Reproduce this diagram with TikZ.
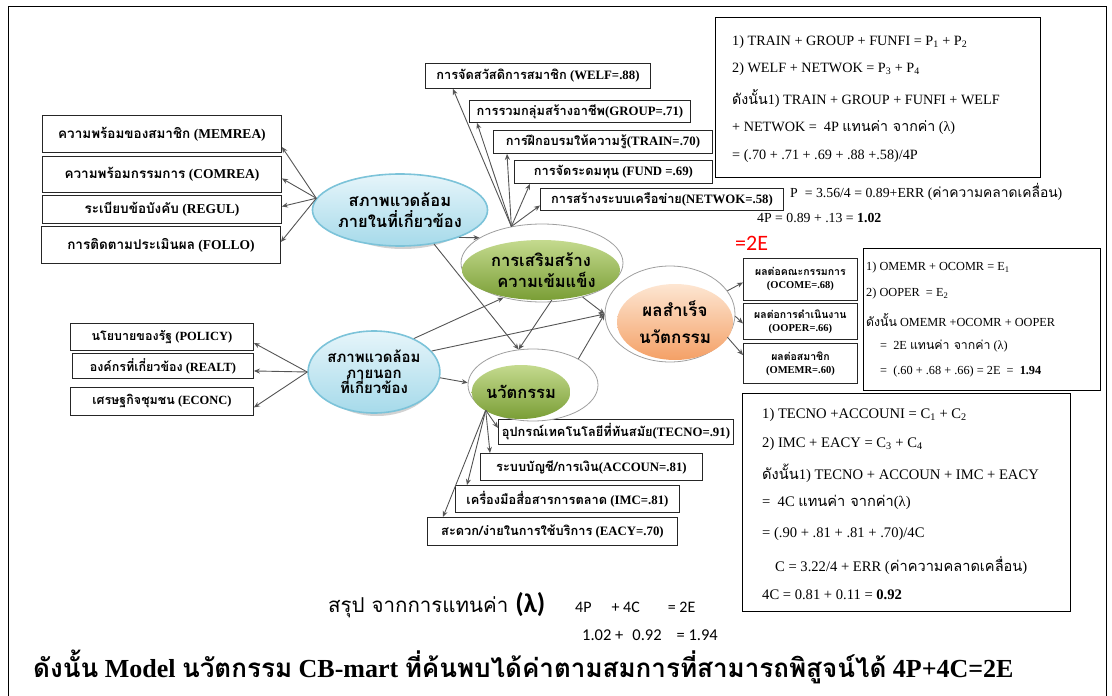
\documentclass[tikz,border=0pt]{standalone}
\usepackage{fontspec}
\setmainfont{Liberation Serif}
\newfontfamily\thaifont[Script=Thai]{Loma}
\newfontfamily\calfont{Carlito}
\newcommand{\thx}[1]{{\thaifont #1}}
\usetikzlibrary{shapes.geometric,arrows.meta,calc}
\definecolor{envA}{HTML}{E6F5FA}
\definecolor{envB}{HTML}{A6DAEA}
\definecolor{envEdge}{HTML}{7CC3D9}
\definecolor{grnA}{HTML}{C4DA8E}
\definecolor{grnB}{HTML}{7A9E36}
\definecolor{orA}{HTML}{FDE6D2}
\definecolor{orB}{HTML}{F4A066}
\definecolor{lineGray}{HTML}{555555}
\tikzset{
  lbox/.style={draw=black!85, line width=0.9pt, fill=white, anchor=north west, inner sep=2pt, font=\bfseries\fontsize{13.5}{15}\selectfont},
  mbox/.style={draw=black!85, line width=0.9pt, fill=white, anchor=north west, inner sep=2pt, font=\bfseries\fontsize{12.8}{14}\selectfont},
  rbox/.style={draw=black!85, line width=0.9pt, fill=white, anchor=north west, inner sep=1pt, minimum width=114, align=center, font=\bfseries\fontsize{10.5}{13}\selectfont},
  eqbox/.style={draw=black, line width=0.9pt, fill=white, anchor=north west},
  eqA/.style={anchor=west, inner sep=0pt, font=\fontsize{14.2}{16}\selectfont},
  eqB/.style={anchor=west, inner sep=0pt, font=\fontsize{12.3}{14}\selectfont},
  eqC/.style={anchor=west, inner sep=0pt, font=\fontsize{14.6}{16}\selectfont},
  ring/.style={ellipse, draw=gray!75, line width=0.8pt, fill=white, inner sep=0pt},
  latent/.style={ellipse, inner sep=0pt, align=center, font=\thaifont\bfseries\fontsize{16.5}{21}\selectfont},
  arr/.style={draw=lineGray, line width=0.9pt, -{Stealth[length=6pt,width=5pt]}},
}
\begin{document}
\begin{tikzpicture}[x=1pt,y=-1pt]
\useasboundingbox (0,0) rectangle (1112,696);
\draw[black, line width=0.8pt] (8,696) -- (8,6) -- (1106,6) -- (1106,696);

% ---- left upper boxes
\node[lbox, minimum width=239, minimum height=37] (memrea) at (42,115) {\thx{ความพร้อมของสมาชิก} (MEMREA)};
\node[lbox, minimum width=239, minimum height=36] (comrea) at (42,156) {\thx{ความพร้อมกรรมการ} (COMREA)};
\node[lbox, minimum width=239, minimum height=28] (regul) at (42,195) {\thx{ระเบียบข้อบังคับ} (REGUL)};
\node[lbox, minimum width=239, minimum height=37] (follo) at (41,226) {\thx{การติดตามประเมินผล} (FOLLO)};

% ---- left lower boxes
\node[lbox, minimum width=183, minimum height=27, font=\bfseries\fontsize{12.5}{14}\selectfont] (policy) at (70,323) {\thx{นโยบายของรัฐ} (POLICY)};
\node[lbox, minimum width=181, minimum height=25, font=\bfseries\fontsize{12.5}{14}\selectfont] (realt) at (72,353) {\thx{องค์กรที่เกี่ยวข้อง} (REALT)};
\node[lbox, minimum width=183, minimum height=28, font=\bfseries\fontsize{12.5}{14}\selectfont] (econc) at (70,387) {\thx{เศรษฐกิจชุมชน} (ECONC)};

% ---- top middle boxes
\node[mbox, minimum width=225, minimum height=25] (welf) at (425,63) {\thx{การจัดสวัสดิการสมาชิก} (WELF=.88)};
\node[mbox, minimum width=221, minimum height=22] (group) at (469,100) {\thx{การรวมกลุ่มสร้างอาชีพ}(GROUP=.71)};
\node[mbox, minimum width=219, minimum height=23] (train) at (493,130) {\thx{การฝึกอบรมให้ความรู้}(TRAIN=.70)};
\node[mbox, minimum width=198, minimum height=23] (fund) at (514,160) {\thx{การจัดระดมทุน} (FUND =.69)};
\node[mbox, minimum width=243, minimum height=22] (netwok) at (540,188) {\thx{การสร้างระบบเครือข่าย}(NETWOK=.58)};

% ---- bottom middle boxes
\node[mbox, minimum width=235, minimum height=25] (tecno) at (498,419) {\thx{อุปกรณ์เทคโนโลยีที่ทันสมัย}(TECNO=.91)};
\node[mbox, minimum width=222, minimum height=27] (accoun) at (480,453) {\thx{ระบบบัญชี/การเงิน}(ACCOUN=.81)};
\node[mbox, minimum width=224, minimum height=27] (imc) at (455,485) {\thx{เครื่องมือสื่อสารการตลาด} (IMC=.81)};
\node[mbox, minimum width=250, minimum height=28] (eacy) at (427,517) {\thx{สะดวก/ง่ายในการใช้บริการ} (EACY=.70)};

% ---- right small boxes
\node[rbox, minimum height=42] (ocome) at (743,258) {\thx{ผลต่อคณะกรรมการ}\\(OCOME=.68)};
\node[rbox, minimum height=36] (ooper) at (743,303) {\thx{ผลต่อการดำเนินงาน}\\(OOPER=.66)};
\node[rbox, minimum height=40] (omemr) at (743,343) {\thx{ผลต่อสมาชิก}\\(OMEMR=.60)};

% ---- equation box 1
\node[eqbox, minimum width=325, minimum height=160] (boxA) at (715,17) {};
\node[eqA] (a1) at (732,42) {1) TRAIN + GROUP + FUNFI = P\textsubscript{1} + P\textsubscript{2}};
\node[eqA] (a2) at (732,69) {2) WELF + NETWOK = P\textsubscript{3} + P\textsubscript{4}};
\node[eqA] (a3) at (732,98) {\thx{ดังนั้น}1) TRAIN + GROUP + FUNFI + WELF};
\node[eqA] (a4) at (732,128) {+ NETWOK =~ 4P \thx{แทนค่า จากค่า} (λ)};
\node[eqA] (a5) at (732,156) {= (.70 + .71 + .69 + .88 +.58)/4P};
\node[eqA, font=\fontsize{13.8}{15}\selectfont] (a6) at (790,192) {P~ = 3.56/4 = 0.89+ERR (\thx{ค่าความคลาดเคลื่อน})};
\node[eqA, font=\fontsize{13.8}{15}\selectfont] (a7) at (757,218) {4P = 0.89 + .13 = \textbf{1.02}};
\node[anchor=west, inner sep=0pt, text=red, font=\calfont\fontsize{22}{22}\selectfont] (twoE) at (735,243) {=2E};

% ---- equation box 2
\node[eqbox, minimum width=237, minimum height=142] (boxB) at (863,248) {};
\node[eqB] (b1) at (866,268) {1) OMEMR + OCOMR = E\textsubscript{1}};
\node[eqB] (b2) at (866,294) {2) OOPER~ = E\textsubscript{2}};
\node[eqB] (b3) at (866,320) {\thx{ดังนั้น} OMEMR +OCOMR + OOPER};
\node[eqB] (b4) at (880,346) {=~ 2E \thx{แทนค่า จากค่า} (λ)};
\node[eqB] (b5) at (880,372) {=~ (.60 + .68 + .66) = 2E ~=~ \textbf{1.94}};

% ---- equation box 3
\node[eqbox, minimum width=328, minimum height=218] (boxC) at (742,393) {};
\node[eqC] (c1) at (762,415) {1) TECNO +ACCOUNI = C\textsubscript{1} + C\textsubscript{2}};
\node[eqC] (c2) at (762,444) {2) IMC + EACY = C\textsubscript{3} + C\textsubscript{4}};
\node[eqC] (c3) at (762,473) {\thx{ดังนั้น}1) TECNO + ACCOUN + IMC + EACY};
\node[eqC] (c4) at (762,502) {=~ 4C \thx{แทนค่า จากค่า}(λ)};
\node[eqC] (c5) at (762,534) {= (.90 + .81 + .81 + .70)/4C};
\node[eqC] (c6) at (775,566) {C = 3.22/4 + ERR (\thx{ค่าความคลาดเคลื่อน})};
\node[eqC] (c7) at (762,595) {4C = 0.81 + 0.11 = \textbf{0.92}};

% ---- latent variables
\node[ellipse, fill=gray!35, minimum width=142, minimum height=72] (inenvS) at (403,213) {};
\node[latent, draw=envEdge, line width=1.6pt, top color=envA, bottom color=envB, minimum width=142, minimum height=72] (inenv) at (400,210) {สภาพแวดล้อม\\ภายในที่เกี่ยวข้อง};
\node[ellipse, fill=gray!35, minimum width=118, minimum height=82] (outenvS) at (377,375) {};
\node[latent, draw=envEdge, line width=1.6pt, top color=envA, bottom color=envB, minimum width=118, minimum height=82, font=\thaifont\bfseries\fontsize{15}{15.5}\selectfont] (outenv) at (374,372) {สภาพแวดล้อม\\ภายนอก\\ที่เกี่ยวข้อง};

\node[ring, minimum width=162, minimum height=78] (strongR) at (542,263) {};
\node[latent, top color=grnA, bottom color=grnB, minimum width=158, minimum height=60] (strong) at (541,270) {การเสริมสร้าง\\~~ความเข้มแข็ง};

\node[ring, minimum width=130, minimum height=72] (innovR) at (533,385) {};
\node[latent, top color=grnA, bottom color=grnB, minimum width=94, minimum height=54] (innov) at (521,392) {นวัตกรรม};

\node[ring, minimum width=130, minimum height=96] (succR) at (670,314) {};
\node[latent, top color=orA, bottom color=orB, minimum width=116, minimum height=76, font=\thaifont\bfseries\fontsize{17}{27}\selectfont] (succ) at (675,322) {ผลสำเร็จ\\นวัตกรรม};

% ---- connectors: inner environment to indicators
\draw[arr] (inenv.172) -- ([yshift=-13pt]memrea.east);
\draw[arr] (inenv.172) -- ([yshift=-4pt]comrea.east);
\draw[arr] (inenv.172) -- ([yshift=3pt]regul.east);
\draw[arr] (inenv.172) -- ([yshift=3pt]follo.east);
% outer environment to indicators
\draw[arr] (outenv.west) -- ([yshift=-6pt]policy.east);
\draw[arr] (outenv.west) -- ([yshift=-5pt]realt.east);
\draw[arr] (outenv.west) -- ([yshift=-6pt]econc.east);
% strengthening to indicators
\draw[arr] (strongR.130) -- ([xshift=-85pt]welf.south);
\draw[arr] (strongR.130) -- ([xshift=8pt]group.south west);
\draw[arr] (strongR.130) -- ([xshift=14pt]train.south west);
\draw[arr] (strongR.130) -- ([xshift=16pt]fund.south west);
\draw[arr] (strongR.130) -- ([yshift=-6pt]netwok.west);
% innovation to indicators
\draw[arr] (innovR.208) -- ([yshift=4pt]tecno.west);
\draw[arr] (innovR.208) -- ([xshift=10pt]accoun.north west);
\draw[arr] (innovR.208) -- ([xshift=12pt]imc.north west);
\draw[arr] (innovR.208) -- ([xshift=16pt]eacy.north west);
% success to indicators
\draw[arr] (succR.22) -- ([yshift=-3pt]ocome.west);
\draw[arr] (succR.-2) -- ([yshift=-2pt]ooper.west);
\draw[arr] (succR.-22) -- ([yshift=-12pt]omemr.north west);
% structural paths
\draw[arr] (inenv.-25) -- (strongR.158);
\draw[arr] (inenv.-45) -- (innovR.112);
\draw[arr] (outenv.40) -- (strongR.222);
\draw[arr] (outenv.20) -- (succR.west);
\draw[arr] (outenv.-5) -- (innovR.178);
\draw[arr] (strong.-70) -- (innovR.112);
\draw[arr] (strongR.-40) -- (succR.west);
\draw[arr] (innovR.30) -- (succR.west);

% ---- bottom texts
\node[anchor=west, inner sep=0pt, font=\thaifont\fontsize{20.5}{22}\selectfont] (summ) at (328,605) {สรุป จากการแทนค่า {\calfont\bfseries\fontsize{27}{27}\selectfont(λ)}};
\node[anchor=west, inner sep=0pt, font=\calfont\fontsize{16}{18}\selectfont] (sumA) at (575,607) {4P\hspace{20pt}+ 4C\hspace{28pt}= 2E};
\node[anchor=west, inner sep=0pt, font=\calfont\fontsize{16.5}{18}\selectfont] (sumB) at (582,635) {1.02 +\hspace{9pt}0.92\hspace{15pt}= 1.94};
\node[anchor=west, inner sep=0pt, font=\bfseries\fontsize{26}{28}\selectfont] (concl) at (33,667) {\thx{ดังนั้น} Model \thx{นวัตกรรม} CB-mart \thx{ที่ค้นพบได้ค่าตามสมการที่สามารถพิสูจน์ได้} 4P+4C=2E};
\end{tikzpicture}
\end{document}
